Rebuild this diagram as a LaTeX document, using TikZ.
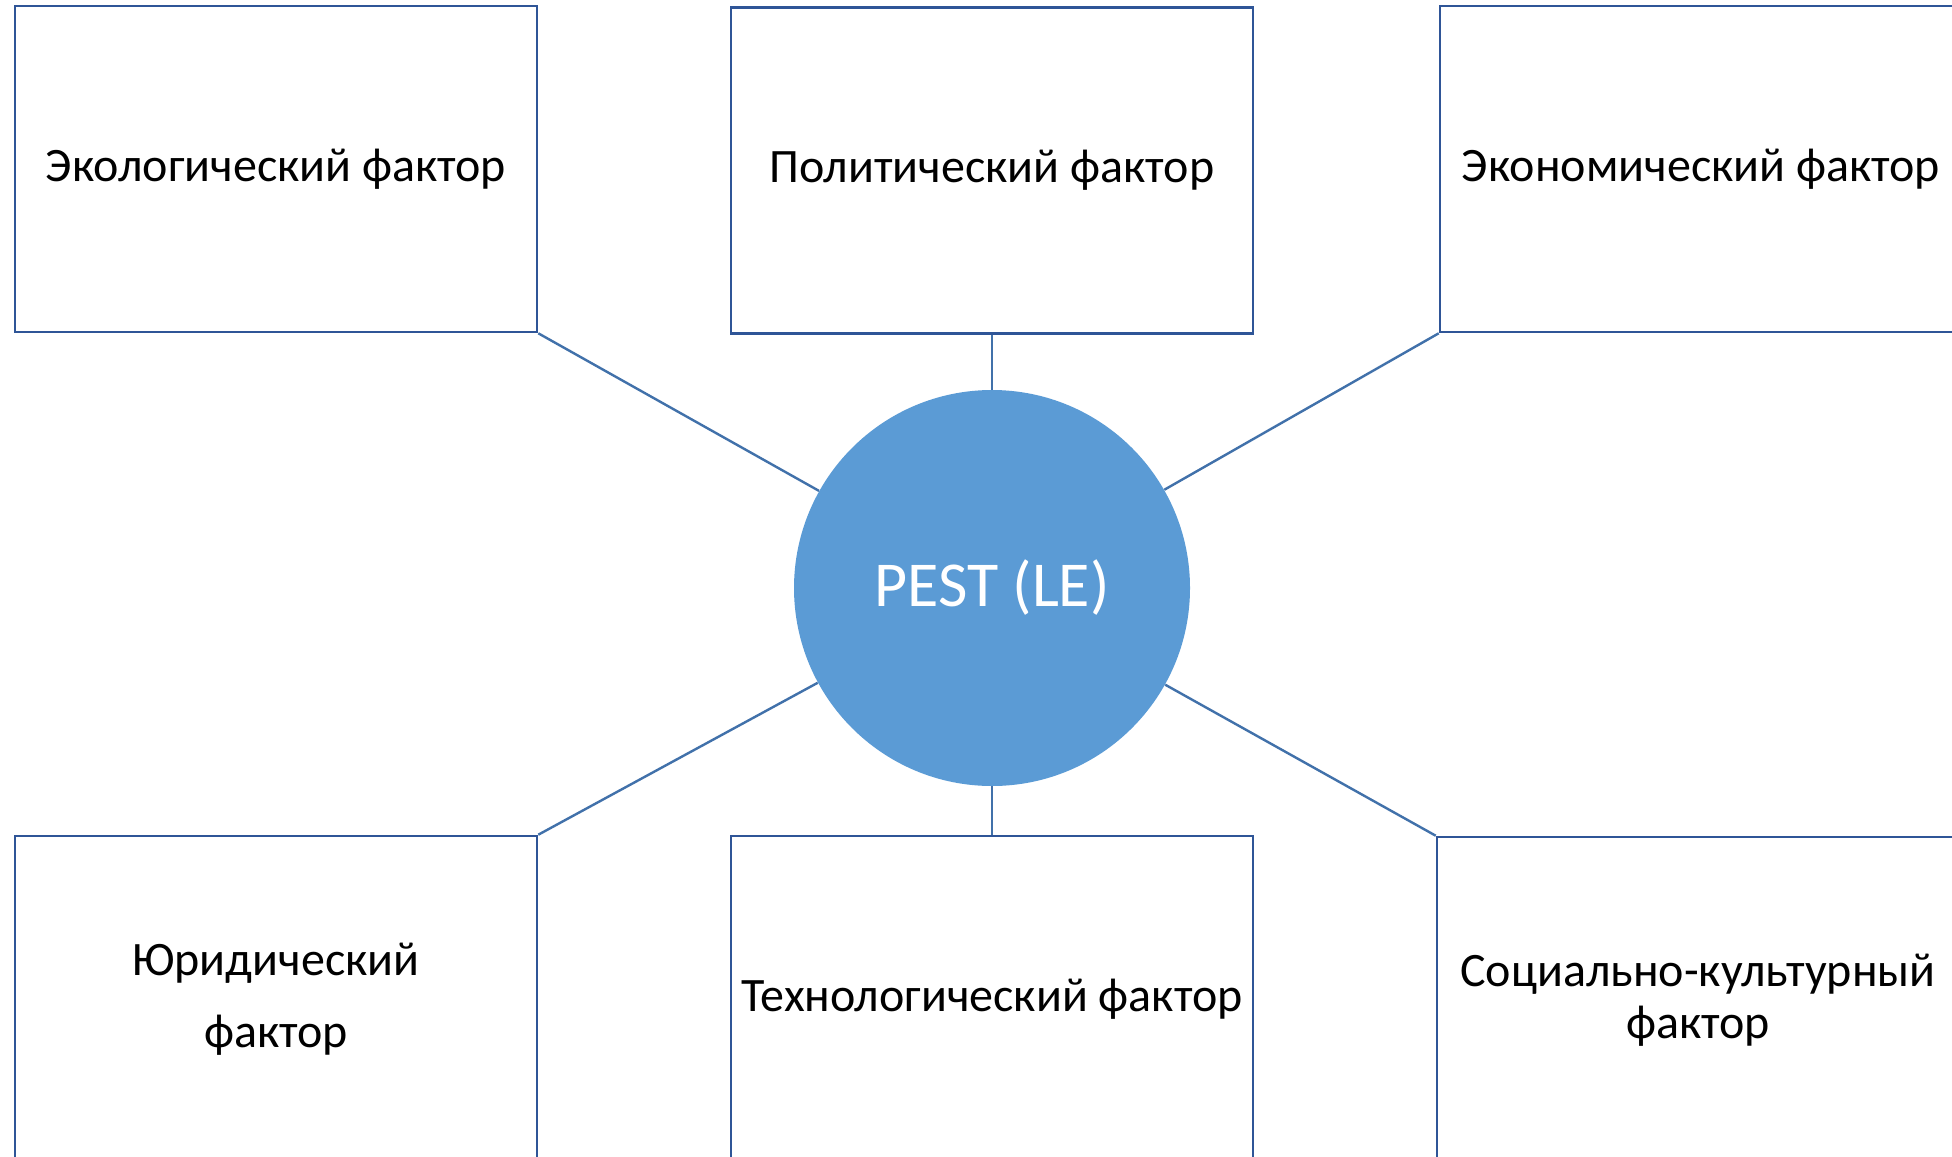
\documentclass[tikz,border=0pt]{standalone}
\usepackage{fontspec}
\setmainfont{Carlito}
\definecolor{boxline}{RGB}{47,85,151}
\definecolor{conline}{RGB}{65,113,170}
\definecolor{pestfill}{RGB}{91,155,213}
\begin{document}
\begin{tikzpicture}[x=0.5pt,y=-0.5pt,
  factor/.style={draw=boxline,line width=1.3pt,minimum width=261pt,minimum height=163pt,
    inner sep=0pt,align=center,font=\fontsize{24}{30}\selectfont,text=black},
  hub/.style={circle,fill=pestfill,minimum size=198pt,inner sep=0pt,
    font=\fontsize{32}{38}\selectfont,text=white},
  con/.style={draw=conline,line width=1.2pt}]
\clip (0,0) rectangle (1952,1156);
\fill[white] (0,0) rectangle (1952,1156);
\node[hub] (pest) at (992,588) {PEST (LE)};
\node[factor] (eco) at (276,169) {Экологический фактор};
\node[factor] (pol) at (992,170.5) {Политический фактор};
\node[factor] (econ) at (1701,169) {Экономический фактор};
\node[factor,font=\fontsize{24}{36}\selectfont] (jur) at (276,999) {Юридический\\фактор};
\node[factor] (tech) at (992,999) {Технологический фактор};
\node[factor,font=\fontsize{24}{26}\selectfont] (soc) at (1698,1000) {Социально-культурный\\фактор};
\draw[con] (eco.south east) -- (pest);
\draw[con] (pol.south) -- (pest);
\draw[con] (econ.south west) -- (pest);
\draw[con] (jur.north east) -- (pest);
\draw[con] (tech.north) -- (pest);
\draw[con] (soc.north west) -- (pest);
\end{tikzpicture}
\end{document}
